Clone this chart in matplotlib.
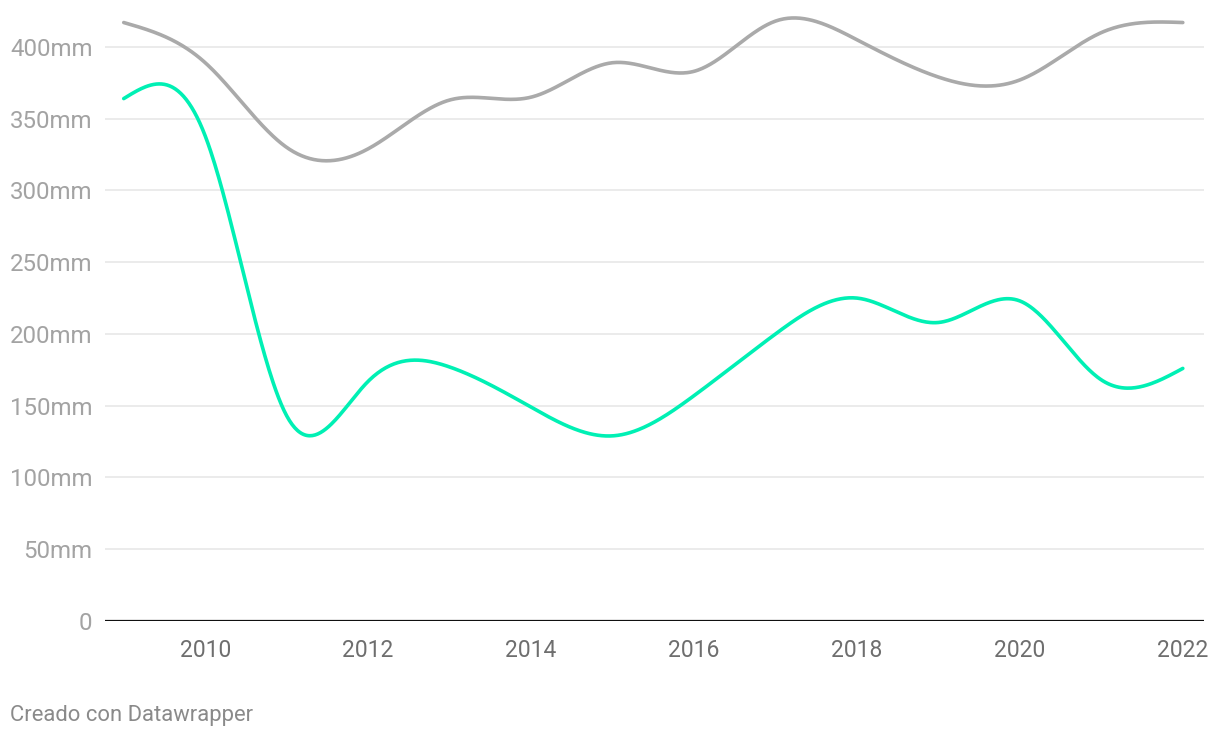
import matplotlib
matplotlib.use("Agg")
import matplotlib.pyplot as plt
import numpy as np

years = [2009, 2010, 2011, 2012, 2013, 2014, 2015, 2016, 2017, 2018, 2019, 2020, 2021, 2022]
grey_mm = [417, 389, 330, 329, 363, 365, 389, 383, 418, 405, 379, 377, 410, 417]
green_mm = [364, 338, 143, 167, 177, 149, 129, 157, 200, 225, 208, 223, 168, 176]
x_ticks = [2010, 2012, 2014, 2016, 2018, 2020, 2022]
y_ticks = [0, 50, 100, 150, 200, 250, 300, 350, 400]


def natural_spline(x, y, n=60):
    # natural cubic spline through the points (second derivative 0 at both ends)
    x = np.asarray(x, float)
    y = np.asarray(y, float)
    k = len(x)
    h = np.diff(x)
    A = np.zeros((k, k))
    b = np.zeros(k)
    A[0, 0] = A[-1, -1] = 1
    for i in range(1, k - 1):
        A[i, i - 1] = h[i - 1]
        A[i, i] = 2 * (h[i - 1] + h[i])
        A[i, i + 1] = h[i]
        b[i] = 6 * ((y[i + 1] - y[i]) / h[i] - (y[i] - y[i - 1]) / h[i - 1])
    M = np.linalg.solve(A, b)
    xs, ys = [], []
    for i in range(k - 1):
        t = np.linspace(0, 1, n, endpoint=False)
        s = 1 - t
        xs.append(x[i] + t * h[i])
        ys.append(s * y[i] + t * y[i + 1]
                  + (s**3 - s) * M[i] * h[i] ** 2 / 6
                  + (t**3 - t) * M[i + 1] * h[i] ** 2 / 6)
    xs.append([x[-1]])
    ys.append([y[-1]])
    return np.concatenate(xs), np.concatenate(ys)


plt.rcParams["font.family"] = ["Roboto", "DejaVu Sans"]

fig = plt.figure(figsize=(12.2, 7.38), dpi=100)
ax = fig.add_axes([105 / 1220, 1 - 621 / 738, 1099 / 1220, 621 / 738])

for vals, color in [(grey_mm, "#aaaaaa"), (green_mm, "#00f0b4")]:
    sx, sy = natural_spline(years, vals)
    ax.plot(sx, sy, color=color, lw=2.6, solid_capstyle="round", zorder=3)

ax.set_xlim(2008.77, 2022.26)
ax.set_ylim(0, 432.7)

for v in y_ticks[1:]:
    ax.axhline(v, color="#e6e6e6", lw=1.1, zorder=1)
ax.axhline(0, color="#111111", lw=1.6, zorder=4)

ax.set_xticks(x_ticks)
ax.set_xticklabels([str(t) for t in x_ticks], fontsize=16.5, color="#6e6e6e")
ax.set_yticks(y_ticks)
ax.set_yticklabels([f"{t}mm" if t else "0" for t in y_ticks], fontsize=17.3, color="#a3a3a3")
ax.tick_params(axis="x", length=0, pad=13)
ax.tick_params(axis="y", length=0, pad=9)
for s in ax.spines.values():
    s.set_visible(False)

fig.text(10 / 1220, 1 - 715 / 738, "Creado con Datawrapper", fontsize=15.8,
         color="#8a8a8a", ha="left", va="center")

fig.savefig("out.png", dpi=100)
